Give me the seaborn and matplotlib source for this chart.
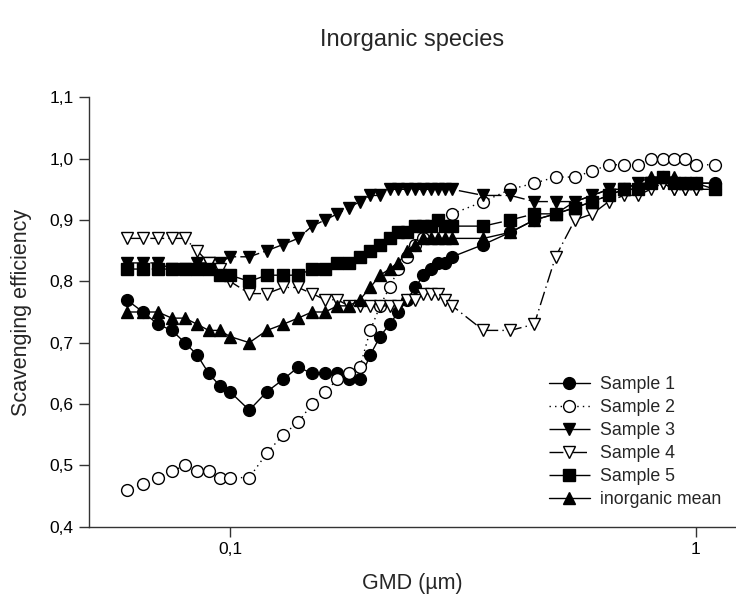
import numpy as np
import pandas as pd
import matplotlib
matplotlib.use("Agg")
import matplotlib.pyplot as plt
from matplotlib.ticker import FixedLocator, NullLocator, FixedFormatter
import seaborn as sns

# Geometric mean diameter bins (µm)
gmd = [0.06, 0.065, 0.07, 0.075, 0.08, 0.085, 0.09, 0.095, 0.1,
       0.11, 0.12, 0.13, 0.14, 0.15, 0.16, 0.17, 0.18, 0.19, 0.2,
       0.21, 0.22, 0.23, 0.24, 0.25, 0.26, 0.27, 0.28, 0.29, 0.3,
       0.35, 0.4, 0.45, 0.5, 0.55, 0.6, 0.65, 0.7, 0.75, 0.8, 0.85,
       0.9, 0.95, 1.0, 1.1]

nan = np.nan
sample1 = [0.77, 0.75, 0.73, 0.72, 0.70, 0.68, 0.65, 0.63, 0.62,
           0.59, 0.62, 0.64, 0.66, 0.65, 0.65, 0.65, 0.64, 0.64, 0.68,
           0.71, 0.73, 0.75, 0.77, 0.79, 0.81, 0.82, 0.83, 0.83, 0.84,
           0.86, 0.88, 0.90, 0.91, 0.92, 0.93, 0.94, 0.95, 0.95, 0.96, 0.97,
           0.96, 0.96, 0.96, 0.96]
sample2 = [0.46, 0.47, 0.48, 0.49, 0.50, 0.49, 0.49, 0.48, 0.48,
           0.48, 0.52, 0.55, 0.57, 0.60, 0.62, 0.64, 0.65, 0.66, 0.72,
           0.76, 0.79, 0.82, 0.84, 0.86, 0.87, nan, nan, nan, 0.91,
           0.93, 0.95, 0.96, 0.97, 0.97, 0.98, 0.99, 0.99, 0.99, 1.00, 1.00,
           1.00, 1.00, 0.99, 0.99]
sample3 = [0.83, 0.83, 0.83, 0.82, 0.82, 0.83, 0.83, 0.83, 0.84,
           0.84, 0.85, 0.86, 0.87, 0.89, 0.90, 0.91, 0.92, 0.93, 0.94,
           0.94, 0.95, 0.95, 0.95, 0.95, 0.95, 0.95, 0.95, 0.95, 0.95,
           0.94, 0.94, 0.93, 0.93, 0.93, 0.94, 0.95, 0.95, 0.96, 0.96, 0.96,
           0.95, 0.95, 0.95, 0.95]
sample4 = [0.87, 0.87, 0.87, 0.87, 0.87, 0.85, 0.83, 0.82, 0.80,
           0.78, 0.78, 0.79, 0.79, 0.78, 0.77, 0.77, 0.76, 0.76, 0.76,
           0.76, 0.76, 0.76, 0.77, 0.77, 0.78, 0.78, 0.78, 0.77, 0.76,
           0.72, 0.72, 0.73, 0.84, 0.90, 0.91, 0.93, 0.94, 0.94, 0.95, 0.96,
           0.95, 0.95, 0.95, 0.95]
sample5 = [0.82, 0.82, 0.82, 0.82, 0.82, 0.82, 0.82, 0.81, 0.81,
           0.80, 0.81, 0.81, 0.81, 0.82, 0.82, 0.83, 0.83, 0.84, 0.85,
           0.86, 0.87, 0.88, 0.88, 0.89, 0.89, 0.89, 0.90, 0.89, 0.89,
           0.89, 0.90, 0.91, 0.91, 0.92, 0.93, 0.94, 0.95, 0.95, 0.96, 0.97,
           0.96, 0.96, 0.96, 0.95]
inorganic_mean = [0.75, 0.75, 0.75, 0.74, 0.74, 0.73, 0.72, 0.72, 0.71,
                  0.70, 0.72, 0.73, 0.74, 0.75, 0.75, 0.76, 0.76, 0.77, 0.79,
                  0.81, 0.82, 0.83, 0.85, 0.86, 0.87, 0.87, 0.87, 0.87, 0.87,
                  0.87, 0.88, 0.90, 0.91, 0.93, 0.94, 0.95, 0.95, 0.96, 0.97, 0.97,
                  0.97, 0.96, 0.96, 0.96]

series_names = ["Sample 1", "Sample 2", "Sample 3", "Sample 4", "Sample 5",
                "inorganic mean"]
series_values = [sample1, sample2, sample3, sample4, sample5, inorganic_mean]

y_ticks = [0.4, 0.5, 0.6, 0.7, 0.8, 0.9, 1.0, 1.1]
y_tick_labels = ["0,4", "0,5", "0,6", "0,7", "0,8", "0,9", "1,0", "1,1"]
x_ticks = [0.1, 1.0]
x_tick_labels = ["0,1", "1"]

df = pd.concat(
    [pd.DataFrame({"GMD": gmd, "eff": vals, "series": name})
     for name, vals in zip(series_names, series_values)],
    ignore_index=True,
).dropna()

sns.set_theme(style="ticks")
plt.rcParams["font.family"] = ["Liberation Sans", "DejaVu Sans"]

# marker / line appearance per series
styles = {
    "Sample 1": dict(marker="o", mfc="black", ls="-"),
    "Sample 2": dict(marker="o", mfc="white", ls=(0, (1, 3))),
    "Sample 3": dict(marker="v", mfc="black", ls=(0, (14, 3))),
    "Sample 4": dict(marker="v", mfc="white", ls=(0, (10, 3, 1, 3))),
    "Sample 5": dict(marker="s", mfc="black", ls=(0, (16, 2))),
    "inorganic mean": dict(marker="^", mfc="black", ls="-"),
}

W, H = 736, 601
fig = plt.figure(figsize=(W / 100, H / 100), dpi=100)
ax_left, ax_right, ax_top, ax_bottom = 89, 736, 97.3, 526.7
ax = fig.add_axes([ax_left / W, (H - ax_bottom) / H,
                   (ax_right - ax_left) / W, (ax_bottom - ax_top) / H])

for name in series_names:
    st = styles[name]
    sub = df[df["series"] == name]
    sns.lineplot(data=sub, x="GMD", y="eff", ax=ax, errorbar=None,
                 color="black", linewidth=1.0, linestyle=st["ls"],
                 marker=st["marker"], markersize=8.5,
                 markerfacecolor=st["mfc"], markeredgecolor="black",
                 markeredgewidth=1.0, label=name)

ax.set_xscale("log")
ax.set_xlim(0.0498, 1.22)
ax.set_ylim(0.4, 1.1)
ax.xaxis.set_major_locator(FixedLocator(x_ticks))
ax.xaxis.set_major_formatter(FixedFormatter(x_tick_labels))
ax.xaxis.set_minor_locator(NullLocator())
ax.yaxis.set_major_locator(FixedLocator(y_ticks))
ax.yaxis.set_major_formatter(FixedFormatter(y_tick_labels))
ax.tick_params(axis="both", direction="out", length=7, width=1,
               color="#333333", labelsize=12.5, labelcolor="black", pad=4)

for side in ("top", "right"):
    ax.spines[side].set_visible(False)
for side in ("left", "bottom"):
    ax.spines[side].set_color("#333333")
    ax.spines[side].set_linewidth(1.0)

ax.set_xlabel("")
ax.set_ylabel("")
fig.text((ax_left + ax_right) / 2 / W, 1 - 583 / H, "GMD (µm)",
         ha="center", va="center", fontsize=15.5)
fig.text(22 / W, 1 - 312 / H, "Scavenging efficiency", rotation=90,
         ha="center", va="center", fontsize=15.5)
fig.text((ax_left + ax_right) / 2 / W, 1 - 40 / H, "Inorganic species",
         ha="center", va="center", fontsize=17)

leg = ax.legend(loc="upper left", bbox_to_anchor=(0.686, 0.388),
                frameon=False, fontsize=12.8, handlelength=2.3,
                handletextpad=0.55, labelspacing=0.34, borderpad=0.4)

fig.savefig("out.png", dpi=100)
